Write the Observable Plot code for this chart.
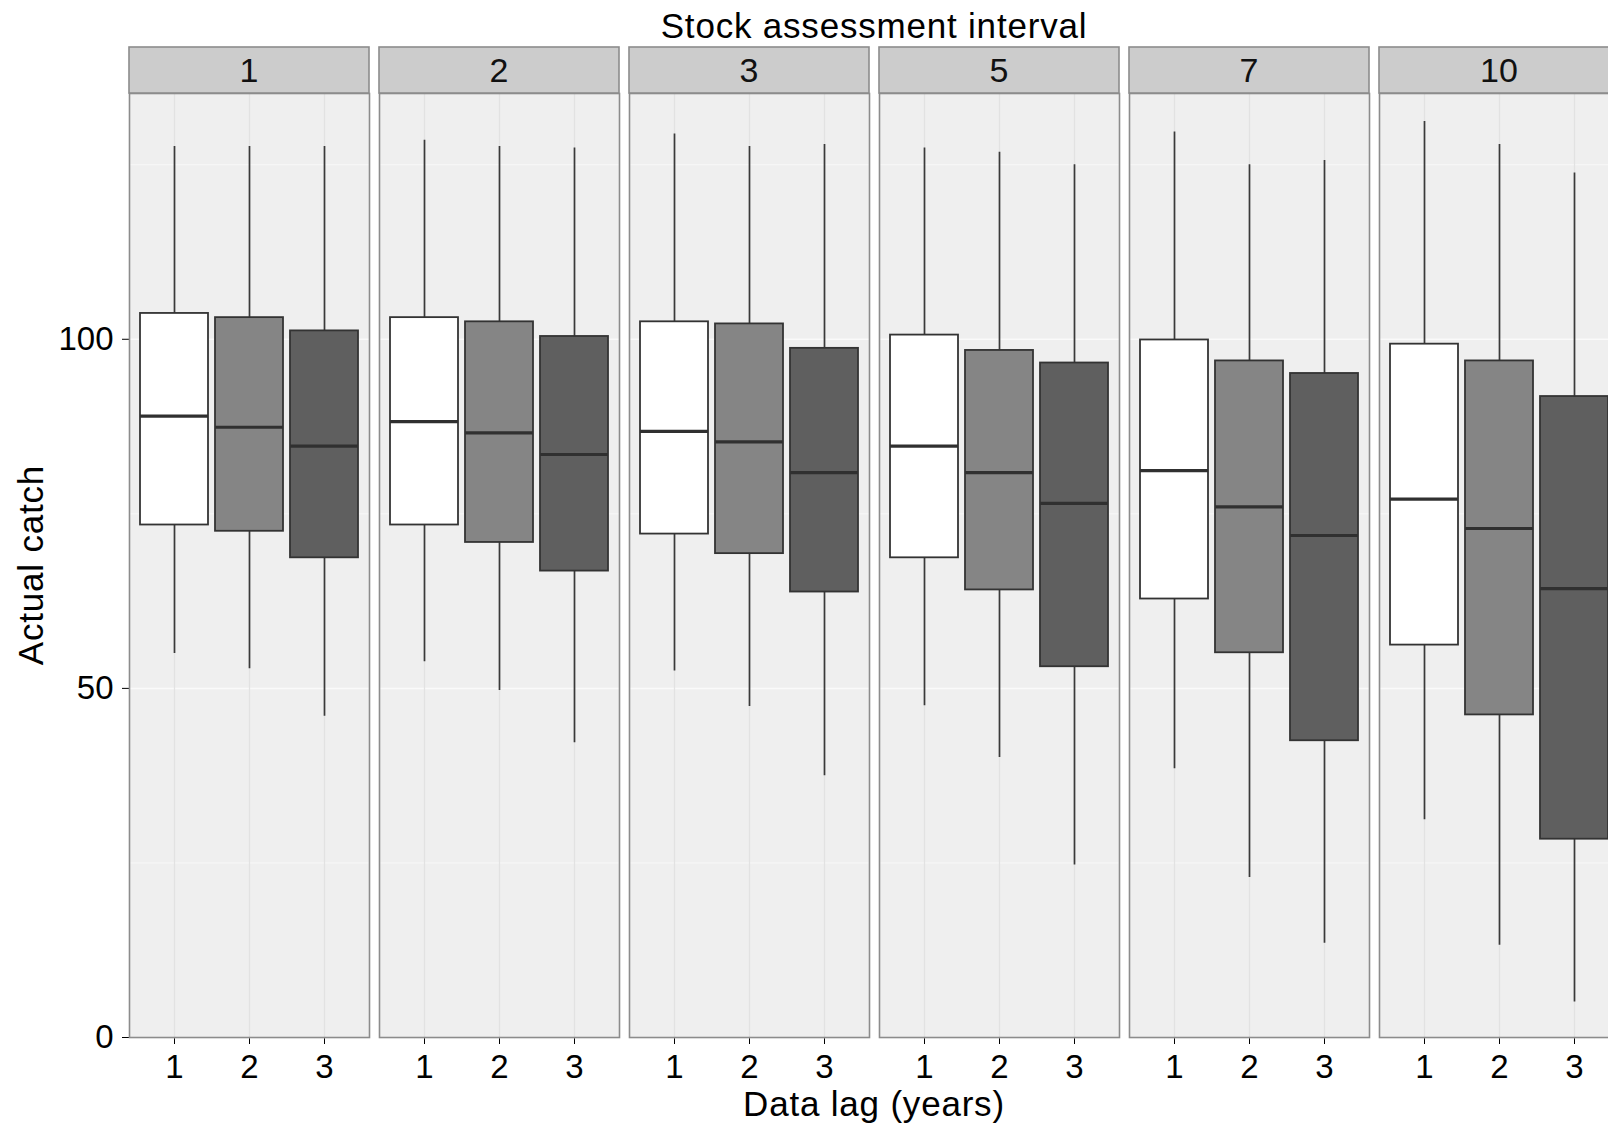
<!DOCTYPE html>
<html><head><meta charset="utf-8">
<script src="https://cdn.jsdelivr.net/npm/d3@7"></script>
<script src="https://cdn.jsdelivr.net/npm/@observablehq/plot@0.6"></script>
<style>
html,body{margin:0;padding:0;background:#fff;overflow:hidden;}
#chart{position:relative;width:1608px;height:1125px;overflow:hidden;}
#chart svg{display:block;max-width:none !important;}
</style></head><body><div id="chart"></div>
<script>
// Facets: stock assessment interval; x: data lag (years)
const intervals = [1, 2, 3, 5, 7, 10];
const lags = [1, 2, 3];
const boxFills = ["#ffffff", "#858585", "#5f5f5f"];
const yTicks = [0, 50, 100];

// Box-plot summaries, ordered interval by interval, lag 1..3 within each
const whiskerHigh = [127.6, 127.6, 127.6, 128.5, 127.6, 127.4, 129.4, 127.6, 127.9, 127.4, 126.8, 125.0, 129.7, 125.0, 125.6, 131.2, 127.9, 123.8];
const upperQuartile = [103.7, 103.1, 101.2, 103.1, 102.5, 100.4, 102.5, 102.2, 98.7, 100.6, 98.4, 96.6, 99.9, 96.9, 95.1, 99.3, 96.9, 91.8];
const median = [89.0, 87.4, 84.7, 88.2, 86.6, 83.5, 86.8, 85.3, 80.9, 84.7, 80.9, 76.5, 81.2, 76.0, 71.9, 77.1, 72.9, 64.3];
const lowerQuartile = [73.4, 72.5, 68.7, 73.4, 70.9, 66.8, 72.1, 69.3, 63.8, 68.7, 64.1, 53.1, 62.8, 55.1, 42.5, 56.2, 46.2, 28.4];
const whiskerLow = [55.0, 52.8, 46.0, 53.8, 49.7, 42.2, 52.5, 47.4, 37.5, 47.5, 40.1, 24.7, 38.5, 22.9, 13.5, 31.2, 13.2, 5.1];

const titleText = "Stock assessment interval";
const xLabel = "Data lag (years)";
const yLabel = "Actual catch";

const rows = intervals.flatMap((iv, i) => lags.map((lag, j) => {
  const k = i * lags.length + j;
  return {interval: iv, lag, hi: whiskerHigh[k], q3: upperQuartile[k], med: median[k], q1: lowerQuartile[k], lo: whiskerLow[k]};
}));

const W = 1625, H = 1125;
const mL = 129, mR = 6, mT = 93, mB = 88;
const font = "'Liberation Sans', Arial, sans-serif";

const plot = Plot.plot({
  width: W, height: H,
  marginLeft: mL, marginRight: mR, marginTop: mT, marginBottom: mB,
  style: {fontFamily: font, fontSize: "33px", color: "#000", background: "transparent", overflow: "visible", maxWidth: "none"},
  fx: {domain: intervals, paddingInner: 0.04, paddingOuter: 0, axis: null, label: null},
  x: {type: "band", domain: lags, paddingInner: 0.1, paddingOuter: 0.15, tickSize: 7, tickPadding: 10, label: null},
  y: {domain: [0, 135.2], ticks: yTicks, tickSize: 7, tickPadding: 9, label: null},
  color: {type: "ordinal", domain: lags, range: boxFills},
  marks: [
    Plot.frame({fill: "#efefef"}),
    Plot.gridY({ticks: [25, 75, 125], stroke: "#f8f8f8", strokeOpacity: 1, strokeWidth: 1}),
    Plot.gridY({ticks: yTicks, stroke: "#fafafa", strokeOpacity: 1, strokeWidth: 1.5}),
    Plot.gridX({stroke: "#e2e2e2", strokeOpacity: 1, strokeWidth: 1.2}),
    Plot.ruleX(rows, {fx: "interval", x: "lag", y1: "lo", y2: "hi", stroke: "#3a3a3a", strokeWidth: 1.7}),
    Plot.barY(rows, {fx: "interval", x: "lag", y1: "q1", y2: "q3", fill: "lag", stroke: "#333", strokeWidth: 1.8}),
    Plot.tickY(rows, {fx: "interval", x: "lag", y: "med", stroke: "#303030", strokeWidth: 3.2}),
    Plot.frame({stroke: "#8c8c8c", strokeWidth: 1.6})
  ]
});
plot.style.maxWidth = "none";
plot.setAttribute("width", W);
plot.setAttribute("height", H);
plot.style.width = W + "px";
plot.style.height = H + "px";

const svg = d3.select(plot);
const fx = plot.scale("fx");
const stripH = 46;
const strips = svg.append("g");
intervals.forEach(v => {
  const x0 = fx.apply(v);
  strips.append("rect")
    .attr("x", x0).attr("y", mT - stripH)
    .attr("width", fx.bandwidth).attr("height", stripH)
    .attr("fill", "#cccccc").attr("stroke", "#8c8c8c").attr("stroke-width", 1.6);
  strips.append("text")
    .attr("x", x0 + fx.bandwidth / 2).attr("y", mT - 11)
    .attr("text-anchor", "middle")
    .attr("font-family", font).attr("font-size", 34).attr("fill", "#111")
    .text(String(v));
});
const cx = (fx.range[0] + fx.range[1]) / 2;
function label(sel) {
  return sel.attr("text-anchor", "middle").attr("font-family", font)
    .attr("font-size", 35).attr("letter-spacing", "0.8px").attr("fill", "#000");
}
label(svg.append("text").attr("x", cx).attr("y", 38)).text(titleText);
label(svg.append("text").attr("x", cx).attr("y", 1116)).text(xLabel);
label(svg.append("text").attr("transform", `translate(43,${(mT + H - mB) / 2}) rotate(-90)`)).text(yLabel);

document.getElementById("chart").appendChild(plot);
</script></body></html>
